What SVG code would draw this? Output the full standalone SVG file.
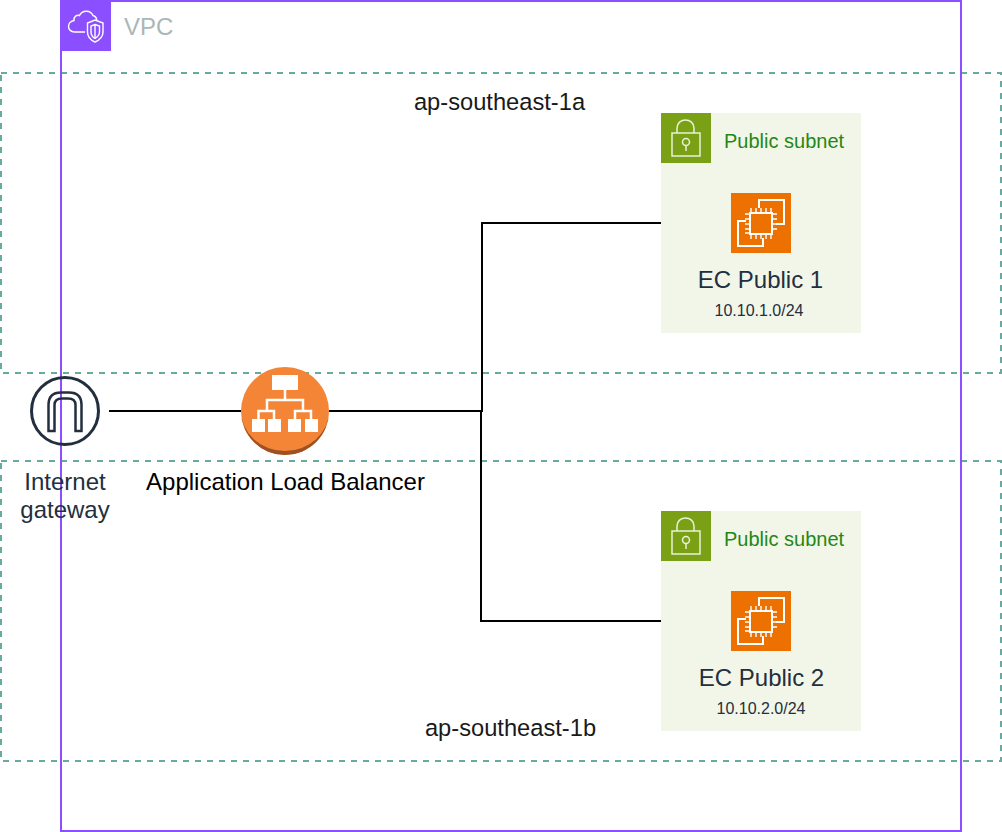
<svg xmlns="http://www.w3.org/2000/svg" width="1002" height="832" viewBox="0 0 1002 832">
<style>
text{font-family:"Liberation Sans",Arial,sans-serif}
.az{fill:none;stroke:#67ab9f;stroke-width:2;stroke-dasharray:6 6}
.w{fill:none;stroke:#fff;stroke-width:1.400}
.w2{fill:none;stroke:#fff;stroke-width:2}
.lk{fill:none;stroke:#e9f2d5;stroke-width:1.500}
.sub{fill:#f2f6e8}
.lbl{font-size:24px;fill:#232f3e;text-anchor:middle}
.cidr{font-size:16px;fill:#232f3e;text-anchor:middle}
.sn{font-size:20px;fill:#248814}
.conn{fill:none;stroke:#000;stroke-width:2}
.t{font-size:23.700px;fill:#1a1a1a;text-anchor:middle}
</style>
<defs>
<g id="lock"><rect width="50" height="50" fill="#7aa116"/><path class="lk" d="M16 20V15C16 10 20 7 24.500 7C29 7 33 10 33 15V20M11 20H39V43H11Z"/><circle class="lk" cx="25" cy="29" r="3.500"/><path class="lk" d="M25 32.500V38"/></g>
<g id="ec2"><rect width="60" height="60" fill="#ed7100"/><path class="w2" d="M28 15V7H53V31H45M15 28H7V53H32V45"/><rect class="w2" x="19" y="20" width="22" height="21"/><path class="w" d="M20 15V20M25 15V20M30 15V20M35 15V20M40 15V20M20 41V46M25 41V46M30 41V46M35 41V46M40 41V46M14 21H19M14 26H19M14 31H19M14 36H19M14 40H19M41 21H46M41 26H46M41 31H46M41 36H46"/></g>
</defs>

<g id="az-a"><rect class="az" x="1" y="73" width="1000" height="300"/><text class="t" x="499.500" y="110">ap-southeast-1a</text></g>
<g id="az-b"><rect class="az" x="1" y="461" width="1000" height="300"/><text class="t" x="510.500" y="736">ap-southeast-1b</text></g>

<g id="vpc">
<rect x="61" y="1" width="900" height="830" fill="none" stroke="#8c4fff" stroke-width="2"/>
<rect x="60" y="0" width="51" height="51" fill="#8c4fff"/>
<path class="w" d="M85 32H74.500C71 32 68.500 29.500 68.500 26.500C68.500 23.500 71 21 74 20.500C73.500 16.500 77 14.500 79.500 15.500C82 10 90.500 9.500 93 15.500C95.500 16.500 97 18.500 96.500 20.500"/>
<path class="w" d="M95 20L103 23V32C103 36.500 99.500 40 95 42C90.500 40 87.500 36.500 87.500 32V23Z"/>
<path class="w" d="M95 24.500L99.500 26V32C99.500 34.500 97.500 37 95 38.500C92.500 37 91 34.500 91 32V26Z"/>
<path class="w" d="M95 24.500V38.500"/>
<text x="124" y="35" font-size="24" fill="#aab7b8">VPC</text>
</g>

<g id="connectors">
<path class="conn" d="M109 411H241"/>
<path class="conn" d="M329 411H482V223H661"/>
<path class="conn" d="M481 411V621H661"/>
</g>

<g id="subnet-1">
<rect class="sub" x="661" y="113" width="200" height="220"/>
<use href="#lock" x="661" y="113"/>
<text class="sn" x="724" y="148">Public subnet</text>
</g>
<g id="ec-public-1">
<use href="#ec2" x="731" y="193"/>
<text class="lbl" x="760.500" y="288">EC Public 1</text>
<text class="cidr" x="759" y="316">10.10.1.0/24</text>
</g>

<g id="subnet-2">
<rect class="sub" x="661" y="511" width="200" height="220"/>
<use href="#lock" x="661" y="511"/>
<text class="sn" x="724" y="546">Public subnet</text>
</g>
<g id="ec-public-2">
<use href="#ec2" x="731" y="591"/>
<text class="lbl" x="761.500" y="686">EC Public 2</text>
<text class="cidr" x="761" y="714">10.10.2.0/24</text>
</g>

<g id="internet-gateway">
<circle cx="65" cy="411" r="33.500" fill="none" stroke="#232f3e" stroke-width="3"/>
<path d="M48.500 431V405Q48.500 392.500 61 392.500H69Q81.500 392.500 81.500 405V431H75.500V405Q75.500 398.500 68 398.500H62Q54.500 398.500 54.500 405V431Z" fill="none" stroke="#232f3e" stroke-width="2.500"/>
<text class="lbl" x="65" y="490">Internet</text>
<text class="lbl" x="65" y="518">gateway</text>
</g>

<g id="alb">
<circle cx="285" cy="411" r="44" fill="#f58536"/>
<path d="M241 411A44 44 0 0 0 329 411A44 40 0 0 1 241 411Z" fill="#9d5025"/>
<rect x="272" y="375" width="26" height="15" fill="#fff"/>
<path d="M285 390V400M267 410V400H303V410M258.500 419V411H274V419M295 419V411H311V419" fill="none" stroke="#fff" stroke-width="2.500"/>
<rect x="252" y="419" width="13" height="13" fill="#fff"/>
<rect x="268" y="419" width="13" height="13" fill="#fff"/>
<rect x="288" y="419" width="13" height="13" fill="#fff"/>
<rect x="305" y="419" width="13" height="13" fill="#fff"/>
<text x="285.500" y="490" font-size="24" fill="#000" text-anchor="middle">Application Load Balancer</text>
</g>
</svg>
